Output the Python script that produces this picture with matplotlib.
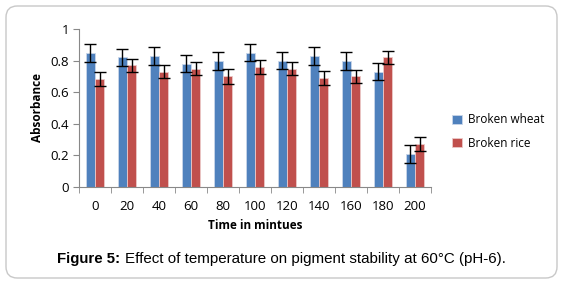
import matplotlib.pyplot as plt
import numpy as np
from matplotlib.patches import FancyBboxPatch

times = ['0', '20', '40', '60', '80', '100', '120', '140', '160', '180', '200']
wheat = [0.85, 0.82, 0.83, 0.78, 0.80, 0.85, 0.80, 0.83, 0.80, 0.73, 0.21]
rice = [0.685, 0.77, 0.73, 0.75, 0.70, 0.76, 0.75, 0.69, 0.70, 0.82, 0.27]
wheat_err = [0.057, 0.055, 0.055, 0.055, 0.057, 0.055, 0.055, 0.055, 0.057, 0.055, 0.055]
rice_err = [0.045, 0.043, 0.04, 0.043, 0.045, 0.043, 0.043, 0.045, 0.04, 0.04, 0.045]

plt.rcParams['font.family'] = ['Open Sans', 'DejaVu Sans']
fig = plt.figure(figsize=(5.63, 2.84), dpi=100)

# rounded outer frame
frame = FancyBboxPatch((6 / 563, 6 / 284), 551 / 563, 272 / 284,
                       boxstyle='round,pad=0,rounding_size=0.02',
                       transform=fig.transFigure, fc='none', ec='#c8c8c8', lw=1.0,
                       mutation_aspect=563 / 284, zorder=-1)
fig.patches.append(frame)

ax = fig.add_axes([79 / 563, 1 - 187 / 284, 352 / 563, 158 / 284])
ax.patch.set_alpha(0)
x = np.arange(len(times))
w = 0.29
ax.bar(x - w / 2, wheat, w, color='#4F81BD', edgecolor='#c9d6ea', lw=0.6, label='Broken wheat',
       yerr=wheat_err, error_kw=dict(ecolor='black', capsize=4, elinewidth=1, capthick=1))
ax.bar(x + w / 2, rice, w, color='#C0504D', edgecolor='#ecc9c8', lw=0.6, label='Broken rice',
       yerr=rice_err, error_kw=dict(ecolor='black', capsize=4, elinewidth=1, capthick=1))

ax.set_xlim(-0.5, len(times) - 0.5)
ax.set_ylim(0, 1)
ax.set_yticks([0, 0.2, 0.4, 0.6, 0.8, 1.0])
ax.set_yticklabels(['0', '0.2', '0.4', '0.6', '0.8', '1'])
ax.set_xticks(x)
ax.set_xticklabels(times)
ax.set_xticks(np.arange(-0.5, len(times)), minor=True)
ax.tick_params(axis='x', which='major', length=0, labelsize=9.5, pad=9)
ax.tick_params(axis='x', which='minor', length=4, color='#888888', direction='out')
ax.tick_params(axis='y', length=4, color='#888888', labelsize=9.5, pad=3)
for s in ['top', 'right']:
    ax.spines[s].set_visible(False)
for s in ['left', 'bottom']:
    ax.spines[s].set_color('#888888')
    ax.spines[s].set_linewidth(0.8)

ax.set_xlabel('Time in mintues', fontsize=8.5, fontweight='bold', labelpad=5)
ax.set_ylabel('Absorbance', fontsize=8.5, fontweight='bold', labelpad=5)

ax.legend(loc='center left', bbox_to_anchor=(1.03, 0.35), frameon=False, fontsize=8.5,
          handlelength=0.8, handleheight=0.8, handletextpad=0.5, labelspacing=0.9)

fig.text(120 / 563, 1 - 259 / 284, 'Figure 5:', ha='right', va='center', fontsize=10.8,
         fontweight='bold', family='Liberation Sans')
fig.text(125 / 563, 1 - 259 / 284, 'Effect of temperature on pigment stability at 60°C (pH-6).',
         ha='left', va='center', fontsize=10.9, family='Liberation Sans')

fig.savefig('out.png', dpi=100)
